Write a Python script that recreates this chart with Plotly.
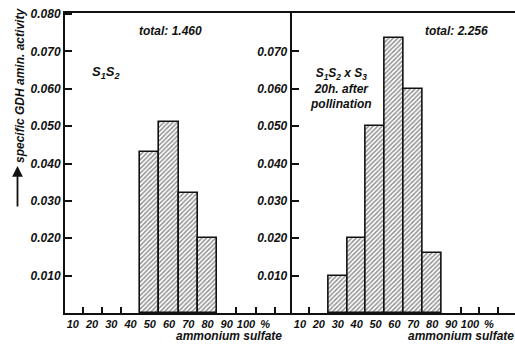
import plotly.graph_objects as go

# Data
left_x = [50, 60, 70, 80]
left_y = [0.043, 0.051, 0.032, 0.020]
right_x = [30, 40, 50, 60, 70, 80]
right_y = [0.010, 0.020, 0.050, 0.0735, 0.060, 0.016]

x_tickvals = [10, 20, 30, 40, 50, 60, 70, 80, 90, 100, 110]
x_ticktext = ["10", "20", "30", "40", "50", "60", "70", "80", "90", "100", "%"]
y_left_ticks = [0.010, 0.020, 0.030, 0.040, 0.050, 0.060, 0.070, 0.080]
y_right_ticks = [0.010, 0.020, 0.030, 0.040, 0.050, 0.060, 0.070]

left_total = "total: 1.460"
right_total = "total: 2.256"
left_label = "S<sub>1</sub>S<sub>2</sub>"
right_label = "S<sub>1</sub>S<sub>2</sub> x S<sub>3</sub><br>20h. after<br>pollination"
y_title = "specific GDH amin. activity"
x_title = "ammonium sulfate"

FONT = "Liberation Sans, Arial, sans-serif"
font = dict(family=FONT, size=12, color="#111", weight="bold", style="italic")
bigfont = dict(family=FONT, size=13, color="#111", weight="bold", style="italic")
xfont = dict(family=FONT, size=11, color="#111", weight="bold", style="italic")

bar_style = dict(
    marker=dict(
        color="white",
        line=dict(color="#111", width=1.6),
        pattern=dict(shape="/", fgcolor="#1a1a1a", bgcolor="white", size=3.2, solidity=0.45),
    ),
    width=10,
)

fig = go.Figure()
fig.add_trace(go.Bar(x=left_x, y=left_y, xaxis="x", yaxis="y", **bar_style))
fig.add_trace(go.Bar(x=right_x, y=right_y, xaxis="x2", yaxis="y2", **bar_style))

common_x = dict(
    showgrid=False, zeroline=False, showline=True, linecolor="#111", linewidth=2,
    tickvals=x_tickvals, ticktext=x_ticktext, ticks="", tickfont=xfont,
    tickangle=0, mirror=True,
)
common_y = dict(
    showgrid=False, zeroline=False, showline=True, linecolor="#111", linewidth=2,
    range=[0, 0.0803], ticks="inside", ticklen=7, tickwidth=1.5, tickcolor="#111",
    tickformat=".3f", tickfont=font,
)

fig.update_layout(
    width=515, height=351,
    margin=dict(l=65, r=0, t=13, b=38),
    paper_bgcolor="white", plot_bgcolor="white",
    showlegend=False, bargap=0,
    xaxis=dict(domain=[0, 0.503], range=[5.9, 123.6],
               minor=dict(tickvals=[15, 25, 35, 95, 105, 115], ticks="inside",
                          ticklen=6, tickwidth=1.5, tickcolor="#111"),
               **common_x),
    xaxis2=dict(domain=[0.5037, 1], range=[5.6, 123.8], anchor="y2",
                minor=dict(tickvals=[15, 95, 105, 115], ticks="inside",
                           ticklen=6, tickwidth=1.5, tickcolor="#111"),
                **common_x),
    yaxis=dict(domain=[0, 1], tickvals=y_left_ticks, anchor="x", **common_y),
    yaxis2=dict(domain=[0, 1], tickvals=y_right_ticks, anchor="x2", **common_y),
)

def px_x(p):
    return (p - 65) / 450

def px_y(p):
    return (313 - p) / 300

ann = [
    dict(text=left_total, x=px_x(170), y=px_y(31), font=font),
    dict(text=right_total, x=px_x(456), y=px_y(31), font=font),
    dict(text=left_label, x=px_x(105), y=px_y(73), font=bigfont),
    dict(text=right_label, x=px_x(341), y=px_y(88), font=font),
    dict(text=x_title, x=px_x(229), y=px_y(336), font=font),
    dict(text=x_title, x=px_x(461), y=px_y(336), font=font),
    dict(text=y_title, x=px_x(20), y=px_y(86), textangle=-90, font=font),
]
for a in ann:
    fig.add_annotation(xref="paper", yref="paper", showarrow=False,
                       xanchor="center", yanchor="middle", **a)

# upward arrow below the y title
fig.add_annotation(xref="paper", yref="paper", x=px_x(17.5), y=px_y(166),
                   ax=0, ay=42, axref="pixel", ayref="pixel", text="",
                   showarrow=True, arrowhead=2, arrowsize=1.2, arrowwidth=1.8,
                   arrowcolor="#111")

fig.write_html("out.html")
